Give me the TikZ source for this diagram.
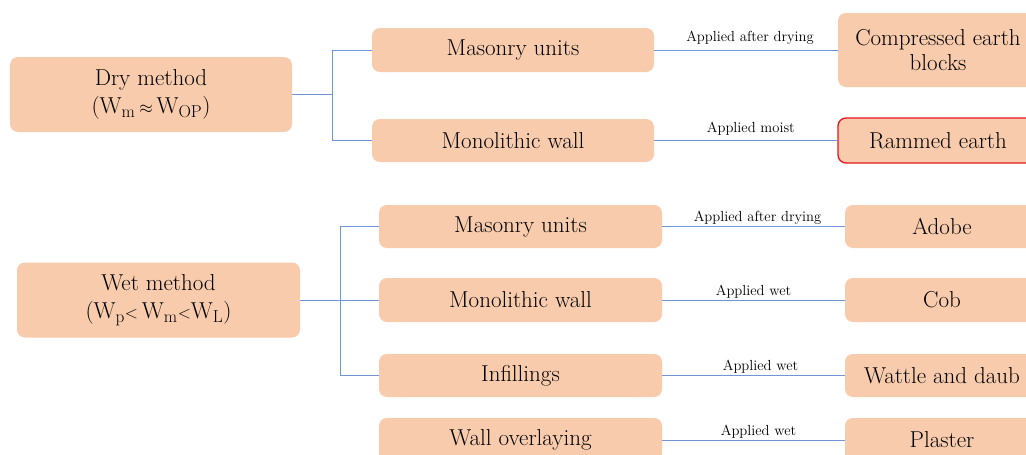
\documentclass[tikz,border=0pt]{standalone}
\begin{document}
\definecolor{peach}{HTML}{F7CBAC}
\definecolor{linkblue}{HTML}{7196D8}
\definecolor{redline}{HTML}{E8141B}
\newcommand{\smallrel}[1]{{\fontsize{16}{16}\selectfont$#1$}}
\begin{tikzpicture}[x=1pt,y=-1pt,
  box/.style={fill=peach, draw=none, rounded corners=8pt, inner sep=0pt, align=center, font=\fontsize{23}{25}\selectfont},
  twoline/.style={font=\fontsize{23}{28}\selectfont},
  link/.style={draw=linkblue, line width=0.8pt},
  lbl/.style={font=\fontsize{14.6}{16}\selectfont, inner sep=1.5pt, above}]
\useasboundingbox (0,0) rectangle (1026,455);
\clip (0,0) rectangle (1026,455);
% dry method
\node[box, twoline, minimum width=282pt, minimum height=75pt] (dry) at (151,94.5) {Dry method\\(W$_{\mathrm{m}}$\,\smallrel{\approx}\,W$_{\mathrm{OP}}$)};
\node[box, minimum width=282pt, minimum height=44pt] (mas1) at (513,50) {Masonry units};
\node[box, minimum width=282pt, minimum height=43pt] (mono1) at (513,140.5) {Monolithic wall};
\node[box, minimum width=200pt, minimum height=74pt] (ceb) at (938,50) {Compressed earth\\blocks};
\node[box, minimum width=200pt, minimum height=45pt, draw=redline, line width=1.3pt] (ram) at (938,140.5) {Rammed earth};
\coordinate (j1) at (332,94.5);
\draw[link] (dry.east) -- (j1);
\draw[link] (j1) |- (mas1.west);
\draw[link] (j1) |- (mono1.west);
\draw[link] (mas1.east) -- node[lbl, xshift=4pt, yshift=4pt] {Applied after drying} (ceb.west);
\draw[link] (mono1.east) -- node[lbl, xshift=5pt, yshift=3pt] {Applied moist} (ram.west);
% wet method
\node[box, twoline, minimum width=283pt, minimum height=75pt] (wet) at (158.5,300) {Wet method\\(W$_{\mathrm{p}}$\smallrel{<}\,W$_{\mathrm{m}}$\smallrel{<}W$_{\mathrm{L}}$)};
\node[box, minimum width=283pt, minimum height=43pt] (mas2) at (520.5,226.5) {Masonry units};
\node[box, minimum width=283pt, minimum height=44pt] (mono2) at (520.5,300) {Monolithic wall};
\node[box, minimum width=283pt, minimum height=43pt] (inf) at (520.5,375.5) {Infillings};
\node[box, minimum width=283pt, minimum height=44pt] (ovl) at (520.5,440) {Wall overlaying};
\node[box, minimum width=194pt, minimum height=43pt] (adobe) at (942,226.5) {Adobe};
\node[box, minimum width=194pt, minimum height=44pt] (cob) at (942,300) {Cob};
\node[box, minimum width=194pt, minimum height=43pt] (wat) at (942,375.5) {Wattle and daub};
\node[box, minimum width=194pt, minimum height=44pt] (pla) at (942,440) {Plaster};
\coordinate (j2) at (340,300);
\draw[link] (wet.east) -- (j2);
\draw[link] (j2) |- (mas2.west);
\draw[link] (j2) -- (mono2.west);
\draw[link] (j2) |- (inf.west);
\draw[link] (mas2.east) -- node[lbl, xshift=4pt] {Applied after drying} (adobe.west);
\draw[link] (mono2.east) -- node[lbl] {Applied wet} (cob.west);
\draw[link] (inf.east) -- node[lbl, xshift=7pt] {Applied wet} (wat.west);
\draw[link] (ovl.east) -- node[lbl, xshift=5pt] {Applied wet} (pla.west);
\end{tikzpicture}
\end{document}
